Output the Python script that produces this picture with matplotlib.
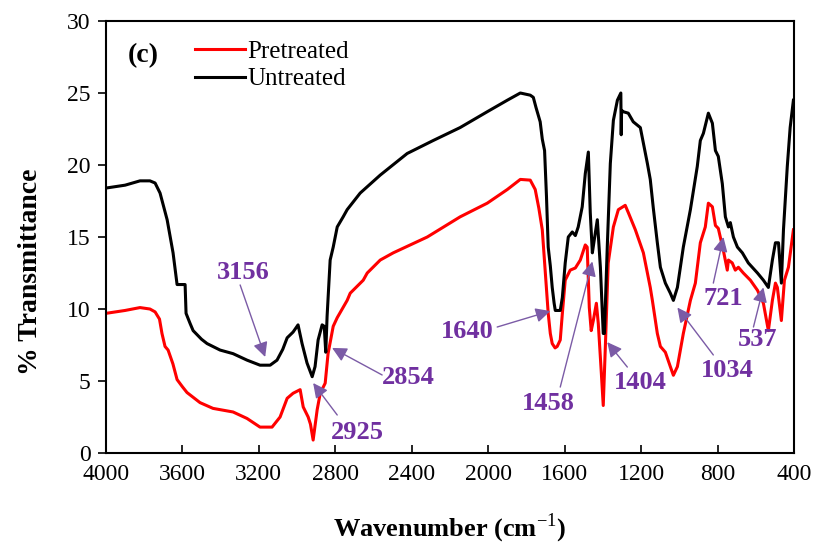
import matplotlib
matplotlib.use("Agg")
import matplotlib.pyplot as plt

# Untreated (black)
wn_untreated = [4000, 3900, 3822, 3770, 3743, 3717, 3700, 3680, 3649, 3628, 3600, 3586, 3581, 3560,
                3544, 3500, 3471, 3403, 3335, 3262, 3194, 3141, 3105, 3075, 3052, 3021, 2995, 2974,
                2948, 2921, 2906, 2890, 2869, 2858, 2850, 2843, 2827, 2811, 2790, 2759, 2738, 2670,
                2565, 2424, 2288, 2147, 2005, 1900, 1832, 1780, 1764, 1750, 1728, 1717, 1705, 1695,
                1686, 1675, 1665, 1655, 1649, 1623, 1612, 1597, 1581, 1560, 1544, 1529, 1508, 1492,
                1476, 1466, 1455, 1445, 1429, 1413, 1398, 1392, 1377, 1361, 1345, 1324, 1306, 1304,
                1302, 1293, 1267, 1241, 1204, 1167, 1152, 1136, 1115, 1099, 1073, 1047, 1031, 1010,
                979, 942, 906, 890, 874, 848, 827, 811, 796, 775, 759, 743, 733, 717, 696, 670, 639,
                591, 560, 534, 513, 497, 481, 466, 455, 435, 420, 403]
t_untreated = [18.4, 18.6, 18.9, 18.9, 18.75, 18.05, 17.2, 16.2, 13.9, 11.7, 11.7, 11.7, 9.7, 9.0,
               8.5, 7.9, 7.6, 7.15, 6.9, 6.45, 6.1, 6.1, 6.45, 7.2, 8.0, 8.4, 8.9, 7.6,
               6.25, 5.3, 6.0, 7.85, 8.9, 8.8, 7.0, 9.5, 13.4, 14.3, 15.7, 16.4, 16.9, 18.05,
               19.3, 20.8, 21.7, 22.6, 23.7, 24.5, 25.0, 24.85, 24.7, 24.0, 23.0, 21.8, 21.0, 17.8,
               14.3, 13.0, 11.5, 10.4, 9.9, 9.9, 10.8, 13.2, 15.0, 15.35, 15.1, 15.7, 17.1, 19.4,
               20.9, 16.7, 13.9, 14.8, 16.2, 12.9, 8.3, 8.3, 14.3, 20.1, 23.1, 24.5, 25.0, 22.1,
               23.8, 23.7, 23.6, 23.0, 22.6, 20.1, 19.0, 17.0, 14.6, 12.9, 11.8, 11.1, 10.6, 11.5,
               14.3, 16.9, 19.9, 21.7, 22.2, 23.6, 22.9, 21.0, 20.6, 18.7, 16.4, 15.7, 16.0, 15.0, 14.3, 13.9, 13.2,
               12.5, 12.0, 11.5, 13.4, 14.6, 14.6, 11.8, 15.5, 19.9, 22.6, 24.5]

# Pretreated (red)
wn_pretreated = [4000, 3900, 3822, 3770, 3743, 3720, 3707, 3691, 3675, 3650, 3628, 3600, 3576, 3508,
                 3440, 3335, 3262, 3194, 3131, 3089, 3052, 3021, 2984, 2968, 2942, 2930, 2916, 2905,
                 2895, 2879, 2853, 2838, 2811, 2790, 2738, 2722, 2654, 2633, 2565, 2497, 2319, 2147,
                 2005, 1900, 1832, 1780, 1754, 1735, 1717, 1701, 1686, 1675, 1665, 1650, 1639, 1623,
                 1612, 1597, 1571, 1544, 1518, 1492, 1482, 1471, 1461, 1450, 1434, 1424, 1408, 1398,
                 1387, 1372, 1345, 1319, 1283, 1267, 1230, 1188, 1152, 1141, 1115, 1099, 1073, 1047,
                 1031, 1010, 979, 942, 916, 890, 864, 848, 827, 811, 796, 770, 749, 743, 723, 707,
                 691, 665, 628, 591, 560, 534, 513, 497, 487, 466, 450, 429, 403]
t_pretreated = [9.7, 9.9, 10.1, 10.0, 9.8, 9.3, 8.3, 7.4, 7.15, 6.2, 5.1, 4.6, 4.2, 3.5,
                3.1, 2.85, 2.4, 1.8, 1.8, 2.5, 3.8, 4.15, 4.4, 3.2, 2.5, 2.0, 0.9, 2.0,
                3.0, 4.15, 4.85, 6.9, 8.8, 9.4, 10.6, 11.1, 12.0, 12.5, 13.4, 13.9, 15.0, 16.4,
                17.35, 18.3, 19.0, 18.95, 18.3, 17.0, 15.5, 12.5, 9.7, 8.3, 7.6, 7.3, 7.4, 7.85,
                9.7, 12.0, 12.7, 12.85, 13.4, 14.45, 14.3, 10.1, 8.5, 9.2, 10.4, 9.0, 5.55, 3.3,
                7.4, 13.2, 15.7, 16.9, 17.2, 16.7, 15.5, 13.9, 11.5, 10.6, 8.3, 7.4, 7.0, 6.0,
                5.4, 6.0, 8.3, 10.6, 11.8, 14.6, 15.7, 17.35, 17.1, 15.8, 15.6, 14.1, 12.7, 13.4, 13.2, 12.7,
                12.9, 12.5, 12.0, 11.3, 10.4, 8.5, 10.6, 11.8, 11.5, 9.2, 12.0, 12.9, 15.5]

# Peak annotations: label, arrow head (wn, %T), arrow tail, text centre
peak_labels = ["3156", "2925", "2854", "1640", "1458", "1404", "1034", "721", "537"]
head_xy = [(3167, 6.67), (2916, 4.86), (2817, 7.3), (1675, 9.86), (1455, 13.3),
           (1377, 7.7), (1010, 10.1), (769, 15.0), (560, 11.5)]
tail_xy = [(3298, 11.67), (2790, 2.64), (2555, 5.42), (1953, 8.75), (1623, 4.58),
           (1272, 5.97), (822, 6.81), (822, 11.8), (612, 8.75)]
text_xy = [(3283, 12.57), (2686, 1.46), (2419, 5.21), (2110, 8.47), (1686, 3.47),
           (1204, 4.93), (748, 5.76), (769, 10.76), (591, 7.85)]

plt.rcParams['font.family'] = ['Liberation Serif', 'DejaVu Serif']
plt.rcParams['mathtext.fontset'] = 'custom'
plt.rcParams['mathtext.rm'] = 'Liberation Serif'
plt.rcParams['mathtext.bf'] = 'Liberation Serif:bold'
fig = plt.figure(figsize=(8.14, 5.47), dpi=100)
ax = fig.add_axes([0.1302, 0.1718, 0.9754 - 0.1302, 0.9616 - 0.1718])

ax.plot(wn_pretreated, t_pretreated, color='#FF0000', lw=2.2, label='Pretreated')
ax.plot(wn_untreated, t_untreated, color='black', lw=2.2, label='Untreated')

ax.set_xlim(4000, 400)
ax.set_ylim(0, 30)
ax.set_xticks(range(4000, 399, -400))
ax.set_yticks(range(0, 31, 5))
ax.tick_params(axis='x', direction='in', length=6, width=1.2, labelsize=17, pad=8)
ax.tick_params(axis='y', direction='out', length=6, width=1.2, labelsize=17, pad=5)
for s in ax.spines.values():
    s.set_linewidth(1.5)

ax.set_xlabel('Wavenumber (cm$^{-1}$)', fontsize=19, fontweight='bold')
ax.xaxis.set_label_coords(0.5, -0.135)
ax.set_ylabel('% Transmittance', fontsize=20, fontweight='bold')
ax.yaxis.set_label_coords(-0.092, 0.42)

ax.text(0.031, 0.921, '(c)', transform=ax.transAxes, fontsize=20, fontweight='bold',
        ha='left', va='center')
leg = ax.legend(loc='upper left', bbox_to_anchor=(0.129, 0.955), frameon=False, fontsize=18,
                handlelength=2.0, handletextpad=0.1, labelspacing=0.2, borderaxespad=0.0,
                borderpad=0.0)

for lab, h, t, tx in zip(peak_labels, head_xy, tail_xy, text_xy):
    ax.annotate('', xy=h, xytext=t,
                arrowprops=dict(arrowstyle='-|>', color='#7B5BA6', lw=1.0,
                                mutation_scale=22, shrinkA=0, shrinkB=0))
    ax.text(tx[0], tx[1], lab, fontsize=19, fontweight='bold', color='#7030A0',
            ha='center', va='center')

fig.savefig('out.png', dpi=100)
